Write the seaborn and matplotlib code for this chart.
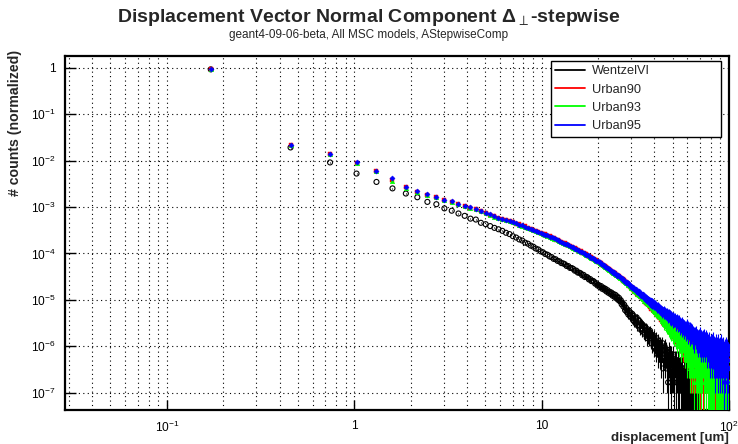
import numpy as np
import pandas as pd
import matplotlib
matplotlib.use("Agg")
import matplotlib.pyplot as plt
import seaborn as sns
from matplotlib.lines import Line2D
from matplotlib.ticker import FixedLocator, NullFormatter

# ---------------- data: histogram definition and bin contents ----------------
X_MIN, X_MAX, N_BINS = 0.0286, 100.0, 350
N_ENTRIES = 6.0e6   # entries used for normalisation / statistical errors

series_names = ["WentzelVI", "Urban90", "Urban93", "Urban95"]

wentzel_counts = [
    5530000, 115000, 54700, 31500, 20800, 15100, 11700, 9730, 7730, 6890,
    5600, 4990, 4350, 3870, 3370, 3220, 2740, 2560, 2330, 2130,
    1990, 1840, 1670, 1565, 1410, 1320, 1200, 1135, 1025, 972,
    885, 838, 765, 730, 664, 635, 584, 563, 516, 500,
    458, 449, 414, 405, 372, 366, 351, 322, 320, 293,
    291, 279, 255, 256, 232, 231, 223, 203, 207, 186,
    188, 182, 165, 168, 152, 154, 149, 134, 137, 122,
    125, 113, 119, 104, 110, 99, 104, 91, 97, 85,
    90, 80, 86, 74, 80, 70, 77, 65, 71, 60,
    66, 56, 59, 48, 52, 43, 47, 36, 41, 33,
    37, 29, 35, 27, 31, 25, 30, 22, 27, 20,
    24, 19, 25, 17, 22, 16, 21, 14, 19, 18,
    13, 17, 12, 16, 11, 15, 13, 9, 14, 10,
    12, 9, 13, 8, 11, 7, 10, 9, 6, 10,
    7, 8, 5, 9, 6, 4, 8, 6, 5, 7,
    4, 6, 3, 5, 7, 2, 5, 4, 6, 3,
    4, 5, 2, 4, 3, 1, 5, 3, 2, 4,
    3, 1, 4, 2, 3, 2, 4, 1, 2, 3,
    0, 2, 3, 1, 2, 0, 3, 1, 2, 1,
    2, 0, 2, 1, 3, 1, 0, 2, 1, 1,
    2, 0, 1, 3, 1, 0, 2, 1, 0, 1,
    2, 1, 0, 1, 2, 0, 1, 1, 0, 2,
    1, 0, 1, 0, 1, 2, 0, 1, 0, 1,
    1, 0, 1, 0, 0, 1, 0, 1, 0, 0,
    1, 0, 0, 1, 0, 0, 0, 1, 0, 0,
    0, 0, 0, 0, 0, 0, 0, 0, 0, 0,
    0, 0, 0, 0, 0, 0, 0, 0, 0, 0,
    0, 0, 0, 0, 0, 0, 0, 0, 0, 0,
    0, 0, 0, 0, 0, 0, 0, 0, 0, 0,
    0, 0, 0, 0, 0, 0, 0, 0, 0, 0,
    0, 0, 0, 0, 0, 0, 0, 0, 0, 0,
    0, 0, 0, 0, 0, 0, 0, 0, 0, 0,
    0, 0, 0, 0, 0, 0, 0, 0, 0, 0,
    0, 0, 0, 0, 0, 0, 0, 0, 0, 0,
    0, 0, 0, 0, 0, 0, 0, 0, 0, 0,
]

urban90_counts = [
    5530000, 129000, 82000, 54000, 35800, 22800, 15900, 12900, 11050, 9900,
    8620, 7850, 6980, 6390, 5820, 5440, 4950, 4410, 4120, 3770,
    3510, 3310, 3190, 2960, 2850, 2640, 2560, 2370, 2290, 2120,
    2050, 1920, 1860, 1740, 1690, 1580, 1540, 1440, 1400, 1305,
    1275, 1195, 1170, 1098, 1078, 1010, 992, 928, 913, 854,
    841, 790, 778, 731, 720, 676, 668, 626, 620, 580,
    574, 539, 532, 500, 495, 464, 460, 431, 428, 401,
    397, 372, 369, 346, 343, 321, 319, 299, 297, 278,
    276, 258, 257, 240, 239, 223, 223, 208, 207, 193,
    193, 180, 179, 166, 168, 155, 157, 144, 146, 135,
    133, 129, 118, 120, 109, 113, 101, 106, 95, 99,
    90, 94, 82, 88, 77, 84, 73, 79, 68, 75,
    66, 71, 59, 66, 55, 63, 52, 60, 49, 57,
    48, 53, 42, 50, 39, 47, 41, 36, 45, 34,
    40, 39, 31, 36, 28, 35, 30, 26, 33, 27,
    29, 31, 22, 28, 24, 20, 27, 22, 19, 26,
    21, 23, 17, 21, 15, 19, 22, 14, 18, 16,
    20, 13, 17, 12, 16, 14, 11, 15, 13, 10,
    14, 12, 9, 14, 10, 8, 13, 11, 7, 12,
    9, 11, 7, 9, 12, 6, 10, 8, 5, 9,
    7, 10, 6, 8, 4, 7, 9, 5, 8, 6,
    4, 7, 5, 8, 3, 6, 4, 7, 5, 2,
    6, 4, 7, 3, 5, 2, 6, 4, 5, 3,
    6, 2, 5, 4, 3, 6, 1, 4, 5, 3,
    2, 5, 3, 4, 1, 6, 3, 2, 4, 5,
    2, 3, 4, 1, 5, 3, 2, 4, 3, 6,
    2, 3, 1, 4, 2, 5, 3, 2, 4, 1,
    3, 4, 2, 3, 1, 5, 2, 3, 4, 1,
    3, 2, 4, 1, 3, 2, 0, 3, 4, 2,
    1, 3, 2, 4, 1, 2, 3, 0, 2, 4,
    1, 2, 3, 1, 2, 4, 1, 2, 3, 0,
    2, 3, 1, 2, 4, 1, 2, 3, 1, 2,
    0, 2, 3, 1, 2, 4, 1, 2, 0, 3,
    2, 1, 2, 3, 1, 2, 0, 3, 2, 1,
    2, 3, 1, 2, 1, 0, 2, 3, 1, 2,
]

urban93_counts = [
    5530000, 128000, 81500, 53600, 35500, 21300, 15700, 12800, 11100, 9800,
    8580, 7800, 6950, 6350, 5790, 5400, 4900, 4380, 4100, 3740,
    3490, 3300, 3150, 2970, 2800, 2660, 2500, 2380, 2250, 2130,
    2010, 1925, 1820, 1750, 1660, 1590, 1510, 1445, 1370, 1315,
    1245, 1200, 1145, 1104, 1052, 1015, 968, 934, 890, 860,
    820, 794, 758, 735, 701, 680, 650, 630, 603, 584,
    558, 542, 518, 503, 481, 467, 447, 434, 415, 403,
    386, 374, 360, 348, 334, 323, 311, 300, 289, 279,
    268, 259, 249, 241, 232, 224, 216, 209, 201, 194,
    187, 180, 173, 169, 161, 157, 150, 146, 140, 137,
    131, 126, 124, 117, 116, 108, 109, 101, 102, 94,
    95, 87, 91, 81, 85, 76, 80, 72, 75, 67,
    70, 62, 67, 58, 63, 54, 60, 51, 57, 49,
    53, 46, 51, 42, 48, 40, 45, 37, 43, 35,
    41, 33, 38, 30, 35, 29, 33, 27, 31, 25,
    30, 24, 28, 21, 26, 20, 24, 18, 23, 19,
    22, 16, 21, 15, 19, 17, 13, 18, 14, 16,
    12, 17, 11, 15, 13, 10, 14, 12, 9, 13,
    11, 8, 12, 10, 7, 11, 9, 13, 6, 10,
    8, 11, 7, 9, 5, 10, 8, 6, 9, 7,
    5, 8, 6, 9, 4, 7, 5, 8, 3, 6,
    7, 4, 6, 5, 3, 7, 4, 2, 6, 5,
    3, 5, 2, 6, 4, 3, 5, 1, 4, 6,
    3, 4, 2, 5, 3, 1, 4, 3, 5, 2,
    3, 1, 4, 3, 2, 5, 3, 1, 4, 2,
    3, 4, 2, 3, 0, 5, 2, 3, 1, 4,
    2, 3, 1, 2, 4, 2, 3, 0, 2, 3,
    1, 2, 4, 1, 3, 2, 1, 3, 2, 0,
    4, 1, 2, 3, 1, 2, 4, 1, 0, 3,
    2, 2, 1, 3, 2, 0, 1, 3, 2, 1,
    2, 3, 1, 2, 0, 2, 3, 1, 2, 1,
    3, 1, 2, 0, 3, 1, 2, 2, 1, 3,
    1, 2, 1, 0, 2, 3, 1, 2, 1, 2,
    0, 1, 3, 2, 1, 0, 2, 1, 3, 1,
    2, 2, 1, 3, 0, 1, 2, 1, 2, 1,
]

urban95_counts = [
    5530000, 131000, 83000, 54700, 36100, 25000, 16200, 13100, 11200, 9950,
    8700, 7900, 7050, 6400, 5870, 5470, 4990, 4440, 4150, 3790,
    3530, 3370, 3140, 3010, 2810, 2690, 2510, 2410, 2250, 2150,
    2030, 1950, 1830, 1770, 1665, 1610, 1510, 1465, 1375, 1330,
    1260, 1215, 1150, 1120, 1058, 1030, 972, 948, 895, 872,
    830, 806, 762, 748, 705, 692, 651, 641, 604, 594,
    566, 552, 518, 512, 482, 478, 447, 443, 416, 411,
    392, 383, 358, 357, 333, 331, 310, 309, 288, 287,
    273, 268, 249, 249, 231, 233, 215, 217, 200, 202,
    191, 189, 174, 176, 162, 165, 151, 154, 141, 144,
    136, 135, 124, 127, 116, 119, 108, 112, 101, 105,
    99, 101, 89, 95, 84, 91, 79, 86, 74, 80,
    75, 79, 66, 74, 62, 70, 59, 67, 56, 64,
    58, 62, 50, 59, 47, 57, 45, 55, 43, 52,
    46, 51, 41, 47, 38, 44, 47, 35, 42, 39,
    34, 41, 33, 38, 30, 36, 39, 29, 34, 28,
    33, 27, 35, 26, 31, 24, 33, 29, 22, 30,
    25, 29, 21, 27, 24, 19, 28, 23, 20, 26,
    21, 24, 17, 22, 19, 25, 16, 20, 18, 23,
    17, 20, 14, 19, 16, 21, 13, 17, 19, 14,
    16, 18, 12, 15, 17, 11, 16, 14, 19, 12,
    13, 15, 10, 14, 12, 16, 9, 13, 11, 15,
    10, 12, 14, 8, 11, 13, 9, 12, 7, 11,
    10, 12, 8, 10, 13, 7, 9, 11, 6, 10,
    9, 11, 7, 8, 12, 6, 9, 7, 10, 5,
    8, 9, 6, 10, 7, 5, 8, 11, 6, 7,
    9, 5, 8, 6, 10, 4, 7, 6, 9, 5,
    7, 8, 4, 6, 9, 5, 3, 7, 6, 8,
    4, 6, 7, 3, 5, 8, 4, 6, 9, 3,
    5, 7, 4, 6, 2, 5, 8, 4, 6, 3,
    5, 7, 3, 5, 6, 2, 8, 4, 5, 3,
    6, 4, 7, 2, 5, 6, 3, 4, 8, 3,
    5, 4, 2, 6, 5, 3, 7, 4, 1, 5,
    4, 6, 3, 4, 2, 5, 7, 3, 4, 1,
    5, 3, 6, 4, 2, 5, 3, 4, 6, 2,
]

x_tick_values = [0.1, 1, 10, 100]
x_tick_labels = [r"$\mathregular{10^{-1}}$", "1", "10", r"$\mathregular{10^{2}}$"]
y_tick_values = [1e-7, 1e-6, 1e-5, 1e-4, 1e-3, 1e-2, 1e-1, 1]
y_tick_labels = [r"$\mathregular{10^{-7}}$", r"$\mathregular{10^{-6}}$", r"$\mathregular{10^{-5}}$",
                 r"$\mathregular{10^{-4}}$", r"$\mathregular{10^{-3}}$", r"$\mathregular{10^{-2}}$",
                 r"$\mathregular{10^{-1}}$", "1"]

# ---------------- styling ----------------
sns.set_theme(style="white")
plt.rcParams["font.family"] = ["Liberation Sans", "DejaVu Sans"]
plt.rcParams["mathtext.fontset"] = "custom"
plt.rcParams["mathtext.rm"] = "Liberation Sans"
plt.rcParams["mathtext.it"] = "Liberation Sans:italic"
plt.rcParams["mathtext.bf"] = "Liberation Sans:bold"

colors = {"WentzelVI": "#000000", "Urban90": "#ff0000", "Urban93": "#00ff00", "Urban95": "#0000ff"}
marker_style = {
    "WentzelVI": dict(marker="o", s=13, facecolor="none", edgecolor="#000000", linewidth=0.8),
    "Urban90": dict(marker="s", s=12, color="#ff0000", edgecolor="#ff0000", linewidth=0.3),
    "Urban93": dict(marker="^", s=11, color="#00ff00", edgecolor="#00ff00", linewidth=0.3),
    "Urban95": dict(marker="D", s=7, color="#0000ff", edgecolor="#0000ff", linewidth=0.3),
}

fig = plt.figure(figsize=(7.38, 4.44), dpi=100)
ax = fig.add_axes([0.0881, 0.0766, 0.8997, 0.7973])

edges = np.linspace(X_MIN, X_MAX, N_BINS + 1)
centers = 0.5 * (edges[:-1] + edges[1:])

all_counts = [wentzel_counts, urban90_counts, urban93_counts, urban95_counts]
for i, (name, counts) in enumerate(zip(series_names, all_counts)):
    c = np.asarray(counts, dtype=float)
    keep = c > 0
    x = centers[keep]
    y = c[keep] / N_ENTRIES
    err = np.sqrt(c[keep]) / N_ENTRIES
    lo = np.clip(y - err, 1e-12, None)
    ax.vlines(x, lo, y + err, color=colors[name], linewidth=0.8, zorder=3 + 2 * i)
    df = pd.DataFrame({"displacement": x, "counts": y})
    sns.scatterplot(data=df, x="displacement", y="counts", ax=ax, legend=False,
                    zorder=4 + 2 * i, **marker_style[name])

ax.set_xscale("log")
ax.set_yscale("log")
ax.set_xlim(X_MIN, X_MAX)
ax.set_ylim(4.24e-8, 1.79)

# ticks
ax.xaxis.set_major_locator(FixedLocator(x_tick_values))
ax.set_xticklabels(x_tick_labels)
x_minor = [m * 10.0 ** e for e in range(-2, 2) for m in range(2, 10)]
x_minor = [v for v in x_minor if X_MIN <= v <= X_MAX]
ax.xaxis.set_minor_locator(FixedLocator(x_minor))
ax.xaxis.set_minor_formatter(NullFormatter())
ax.yaxis.set_major_locator(FixedLocator(y_tick_values))
ax.set_yticklabels(y_tick_labels)
y_minor = [m * 10.0 ** e for e in range(-8, 1) for m in range(2, 10)]
y_minor = [v for v in y_minor if 4.24e-8 <= v <= 1.79]
ax.yaxis.set_minor_locator(FixedLocator(y_minor))
ax.yaxis.set_minor_formatter(NullFormatter())

ax.tick_params(axis="both", which="both", direction="in", color="black",
               labelsize=8.6, labelcolor="black")
ax.tick_params(axis="x", which="major", length=7, width=1, pad=7)
ax.tick_params(axis="x", which="minor", length=0)
ax.tick_params(axis="y", which="major", length=8, width=1, pad=7)
ax.tick_params(axis="y", which="minor", length=4, width=0.8)
ax.tick_params(left=True, bottom=True, right=False, top=False)

# grids
ax.grid(True, axis="x", which="both", color="black", linestyle=(0, (1, 3)), linewidth=0.8)
ax.grid(True, axis="y", which="major", color="black", linestyle=(0, (1, 3)), linewidth=0.8)
ax.grid(False, axis="y", which="minor")
ax.set_axisbelow(True)

for sp in ax.spines.values():
    sp.set_visible(True)
    sp.set_color("black")
    sp.set_linewidth(1.6)

ax.set_xlabel("")
ax.set_ylabel("")
fig.text(0.988, 1 - 441.0 / 444, "displacement [um]", ha="right", va="baseline",
         fontsize=9.6, fontweight="bold")
fig.text(0.021, 1 - 50.0 / 444, "# counts (normalized)", ha="center", va="top", rotation=90,
         fontsize=10.2, fontweight="bold")

fig.text(0.5, 1 - 17.0 / 444, "Displacement Vector Normal Component \u0394" + r"$_{\perp}$" + "-stepwise",
         ha="center", va="center", fontsize=14, fontweight="bold")
fig.text(0.5, 1 - 35.0 / 444, "geant4-09-06-beta, All MSC models, AStepwiseComp",
         ha="center", va="center", fontsize=8.5)

handles = [Line2D([0], [0], color=colors[n], linewidth=1.3) for n in series_names]
leg = ax.legend(handles, series_names, loc="upper left",
                bbox_to_anchor=(0.7315, 0.9867, 0.256, 0.0), mode="expand",
                borderaxespad=0, frameon=True, fancybox=False, shadow=False,
                fontsize=9.2, handlelength=2.3, handletextpad=0.55,
                labelspacing=0.5, borderpad=0.35)
leg.get_frame().set_edgecolor("black")
leg.get_frame().set_linewidth(1.0)
leg.get_frame().set_facecolor("white")
leg.get_frame().set_alpha(1.0)
leg.set_zorder(20)

fig.savefig("out.png", dpi=100)
